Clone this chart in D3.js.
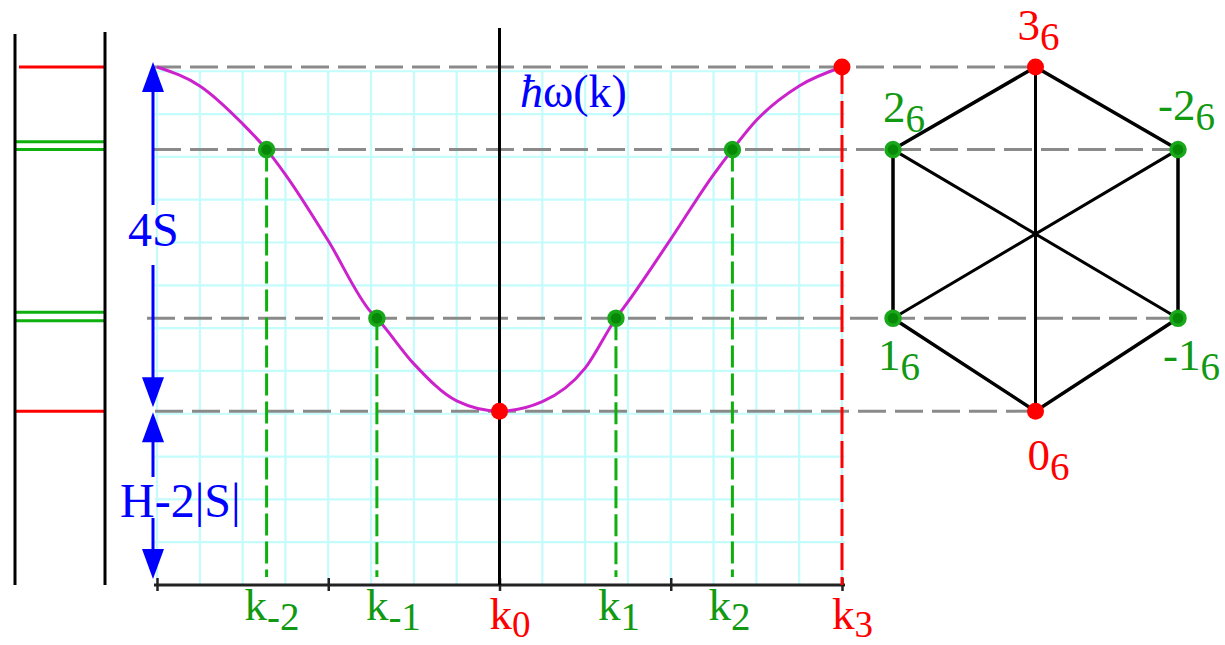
<!DOCTYPE html>
<html>
<head>
<meta charset="utf-8">
<script src="https://cdn.jsdelivr.net/npm/d3@7"></script>
<style>
  html, body { margin: 0; padding: 0; background: #fff; }
  svg { display: block; }
  text { font-family: "Liberation Serif", "Times New Roman", serif; }
</style>
</head>
<body>
<svg id="chart" width="1225" height="645"></svg>
<script>
// ---- data (k in units of pi, energies in units of |S|) ----
const curveK = [-1, -0.875, -0.75, -0.68, -0.625, -0.5, -0.375, -0.358, -0.25, -0.125, 0,
                0.125, 0.25, 0.34, 0.375, 0.5, 0.625, 0.68, 0.75, 0.875, 1];
const curveE = [6.02, 5.80, 5.36, 5.06, 4.77, 4.00, 3.17, 3.10, 2.57, 2.14, 2.02,
                2.13, 2.52, 3.10, 3.29, 4.02, 4.77, 5.06, 5.40, 5.80, 6.02];

const pointK     = [-0.68, -0.358, 0, 0.34, 0.68, 1];
const pointE     = [5.06, 3.10, 2.02, 3.10, 5.06, 6.02];
const pointMain  = ["k", "k", "k", "k", "k", "k"];
const pointSub   = ["-2", "-1", "0", "1", "2", "3"];
const pointKind  = ["g", "g", "r", "g", "g", "r"];

const axisTicks  = [-1, -0.5, 0, 0.5, 1];

// energy ladder on the left
const ladderE    = [6.02, 5.15, 5.06, 3.17, 3.07, 2.02];
const ladderKind = ["r", "g", "g", "g", "g", "r"];

// hexagon sites: label, column (-1 left, 0 centre, 1 right), energy
const siteMain   = ["3", "2", "1", "0", "-1", "-2"];
const siteSub    = ["6", "6", "6", "6", "6", "6"];
const siteCol    = [0, -1, -1, 0, 1, 1];
const siteE      = [6.02, 5.06, 3.10, 2.02, 3.10, 5.06];
const siteKind   = ["r", "g", "g", "r", "g", "g"];

const gapValue   = 2.02;   // H-2|S|
const bandTop    = 6.02;   // H-2|S| + 4S

// ---- layout ----
const svg = d3.select("#chart");
const RED = "#ff0000", GREEN_TXT = "#119911", GREEN = "#0db00d", BLUE = "#0000ff";
const col = k => k === "r" ? RED : GREEN;

const x = d3.scaleLinear().domain([-1, 1]).range([157, 842]);
const y = d3.scaleLinear().domain([0, bandTop]).range([585, 67]);
const hx = d3.scaleLinear().domain([-1, 1]).range([893, 1178]);

// light grid
const cell = x(0.125) - x(0);
const gridG = svg.append("g").attr("stroke", "#c4fbfb").attr("stroke-width", 2.2);
d3.range(-1, 1.0001, 0.125).forEach(k => {
  gridG.append("line").attr("x1", x(k)).attr("x2", x(k)).attr("y1", y(0) - 12 * cell).attr("y2", y(0));
});
d3.range(0, 13).forEach(j => {
  gridG.append("line").attr("x1", x(-1) - 2).attr("x2", x(1) + 3)
    .attr("y1", y(0) - j * cell).attr("y2", y(0) - j * cell);
});

// left ladder of levels
svg.append("g").selectAll("line").data(ladderE).join("line")
  .attr("x1", (d, i) => i === 0 ? 19 : 15).attr("x2", 105)
  .attr("y1", d => y(d)).attr("y2", d => y(d))
  .attr("stroke", (d, i) => col(ladderKind[i])).attr("stroke-width", 3);
svg.append("line").attr("x1", 15).attr("x2", 15).attr("y1", 34).attr("y2", 585)
  .attr("stroke", "#000").attr("stroke-width", 3);
svg.append("line").attr("x1", 105).attr("x2", 105).attr("y1", 32).attr("y2", 585)
  .attr("stroke", "#000").attr("stroke-width", 3);

// grey dashed level guides running to the hexagon
const guideE = [bandTop, siteE[1], siteE[2], gapValue];
const guideEnd = [hx(0), hx(1), hx(1), hx(0)];
const guideStart = [153, 153, 147, 155];
svg.append("g").selectAll("line").data(guideE).join("line")
  .attr("x1", (d, i) => guideStart[i]).attr("x2", (d, i) => guideEnd[i])
  .attr("y1", d => y(d)).attr("y2", d => y(d))
  .attr("stroke", "#8a8a8a").attr("stroke-width", 3).attr("stroke-dasharray", "28,9");

// x axis with crossing ticks
const axisG = svg.append("g").attr("transform", `translate(0,${y(0)})`)
  .call(d3.axisBottom(x).tickValues(axisTicks).tickFormat("").tickSizeOuter(0).tickSizeInner(5));
axisG.select(".domain").attr("stroke", "#222").attr("stroke-width", 3)
  .attr("d", `M${x(-1) - 3},0H${x(1) + 3}`);
axisG.selectAll(".tick line").attr("stroke", "#222").attr("stroke-width", 2.5).attr("y1", -7).attr("y2", 6);

// vertical energy axis at k = 0
svg.append("line").attr("x1", x(0)).attr("x2", x(0)).attr("y1", 28).attr("y2", y(0))
  .attr("stroke", "#000").attr("stroke-width", 3);

// dashed drops from the sampled points
svg.append("g").selectAll("line").data(pointK).join("line")
  .attr("x1", d => x(d)).attr("x2", d => x(d))
  .attr("y1", (d, i) => y(pointE[i])).attr("y2", (d, i) => pointKind[i] === "r" ? y(0) : y(0) - 8)
  .attr("stroke", (d, i) => col(pointKind[i]))
  .attr("stroke-width", 3)
  .attr("stroke-dasharray", (d, i) => pointKind[i] === "r" ? "27,7" : "22,6")
  .style("display", (d, i) => pointK[i] === 0 ? "none" : null);

// dispersion curve
const line = d3.line().x(d => x(d[0])).y(d => y(d[1])).curve(d3.curveMonotoneX);
svg.append("path").datum(curveK.map((k, i) => [k, curveE[i]]))
  .attr("d", line).attr("fill", "none").attr("stroke", "#cc22cc").attr("stroke-width", 3);

// dots on the curve
function dot(cx, cy, kind) {
  if (kind === "r") {
    svg.append("circle").attr("cx", cx).attr("cy", cy).attr("r", 8.5).attr("fill", RED);
  } else {
    svg.append("circle").attr("cx", cx).attr("cy", cy).attr("r", 7)
      .attr("fill", "#078807").attr("stroke", "#19a819").attr("stroke-width", 3.5);
  }
}

// hexagon
const site = i => [hx(siteCol[i]), y(siteE[i])];
const hexG = svg.append("g").attr("stroke", "#000").attr("fill", "none");
const ring = [0, 1, 2, 3, 4, 5, 0];
hexG.append("path").attr("stroke-width", 3.5)
  .attr("d", d3.line()(ring.map(site)));
[[0, 3], [1, 4], [2, 5]].forEach(([a, b]) => {
  hexG.append("line").attr("stroke-width", 3)
    .attr("x1", site(a)[0]).attr("y1", site(a)[1]).attr("x2", site(b)[0]).attr("y2", site(b)[1]);
});

pointK.forEach((k, i) => dot(x(k), y(pointE[i]), pointKind[i]));
siteE.forEach((e, i) => dot(site(i)[0], site(i)[1], siteKind[i]));

// label with subscript
function subLabel(px, py, main, sub, color, size, subSize, drop) {
  const t = svg.append("text").attr("x", px).attr("y", py).attr("fill", color)
    .attr("font-size", size);
  t.append("tspan").text(main);
  t.append("tspan").attr("font-size", subSize).attr("dy", drop).text(sub);
  return t;
}

// k labels under the axis
const kLabelDx = [-22, -11, -10, -18, -24, -10];
pointK.forEach((k, i) => {
  const red = pointKind[i] === "r";
  subLabel(x(k) + kLabelDx[i], red ? 629 : 620, pointMain[i], pointSub[i],
           red ? RED : GREEN_TXT, 45, red ? 37 : 39, red ? 8 : 10);
});

// hexagon site labels
const siteDx = [-18, -10, -15, -8, -15, -20];
const siteDy = [-27, -28, 52, 59, 52, -30];
siteE.forEach((e, i) => {
  const [sx, sy] = site(i);
  subLabel(sx + siteDx[i], sy + siteDy[i], siteMain[i], siteSub[i],
           siteKind[i] === "r" ? RED : GREEN_TXT, 45, 39, 10);
});

// blue double arrows: 4S band width and H-2|S| gap
const ax = 153;
function head(tipY, dir) {   // dir -1: pointing up, +1: pointing down
  const baseY = tipY - dir * 30;
  svg.append("path").attr("fill", BLUE)
    .attr("d", `M${ax},${tipY}L${ax - 11},${baseY}L${ax + 11},${baseY}Z`);
}
function shaft(y1, y2) {
  svg.append("line").attr("x1", ax).attr("x2", ax).attr("y1", y1).attr("y2", y2)
    .attr("stroke", BLUE).attr("stroke-width", 3);
}
head(y(bandTop) - 5, -1); shaft(y(bandTop) + 20, 205); shaft(265, y(gapValue) - 25); head(y(gapValue) - 4, 1);
head(y(gapValue) + 1, -1); shaft(y(gapValue) + 25, 477); shaft(518, y(0) - 25); head(y(0) - 6, 1);

svg.append("text").attr("x", 128).attr("y", 246).attr("fill", BLUE).attr("font-size", 48).text("4S");
svg.append("text").attr("x", 120).attr("y", 517).attr("fill", BLUE).attr("font-size", 48).text("H-2|S|");

const hw = svg.append("text").attr("x", 520).attr("y", 107).attr("fill", BLUE).attr("font-size", 46);
hw.append("tspan").attr("font-style", "italic").text("ħ");
hw.append("tspan").text("ω(k)");
</script>
</body>
</html>
